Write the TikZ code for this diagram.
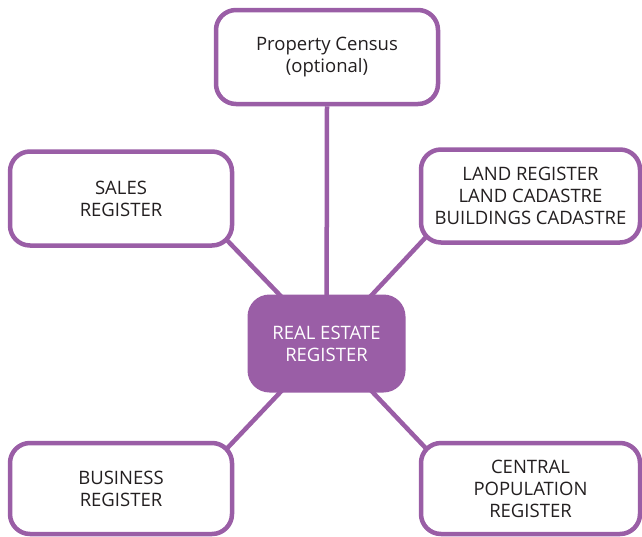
\documentclass[tikz,border=0pt]{standalone}
\usepackage{fontspec}
\setmainfont{Open Sans}
\usetikzlibrary{backgrounds}
\definecolor{regpurple}{HTML}{9A5EA6}
\definecolor{regtext}{HTML}{231F20}
\begin{document}
\begin{tikzpicture}[x=1pt,y=-1pt,
  regbox/.style={draw=regpurple, line width=4.5pt, fill=white, rounded corners=20pt,
    align=center, text=regtext, inner sep=0pt,
    font=\fontsize{18.5}{22}\selectfont},
  hubbox/.style={fill=regpurple, rounded corners=22pt, align=center, text=white,
    inner sep=0pt, minimum width=158pt, minimum height=98pt,
    font=\fontsize{18.5}{22}\selectfont},
  link/.style={draw=regpurple, line width=4.5pt},
  reach/.style={shorten >=-15pt}]
\useasboundingbox (0,0) rectangle (642,536);

\node[hubbox] (hub) at (326.5,343.5) {REAL ESTATE\\REGISTER};

\node[regbox, minimum width=222pt, minimum height=94pt] (census) at (327,57)
  {Property Census\\(optional)};
\node[regbox, minimum width=222pt, minimum height=94pt] (sales) at (121,198.5)
  {SALES\\REGISTER};
\node[regbox, minimum width=219pt, minimum height=93pt] (land) at (530.5,196)
  {LAND REGISTER\\LAND CADASTRE\\BUILDINGS CADASTRE};
\node[regbox, minimum width=222pt, minimum height=91pt] (business) at (121,488.5)
  {BUSINESS\\REGISTER};
\node[regbox, minimum width=219pt, minimum height=91pt] (population) at (530.5,488.5)
  {CENTRAL\\POPULATION\\REGISTER};

% spokes run from the hub's centre into each outer box, hidden behind the boxes
\begin{scope}[on background layer]
  \draw[link] (hub.center) -- (census.south);
  \draw[link, reach] (hub.center) -- (sales.south east);
  \draw[link, reach] (hub.center) -- (land.south west);
  \draw[link, reach] (hub.center) -- (business.north east);
  \draw[link, reach] (hub.center) -- (population.north west);
\end{scope}
\end{tikzpicture}
\end{document}
